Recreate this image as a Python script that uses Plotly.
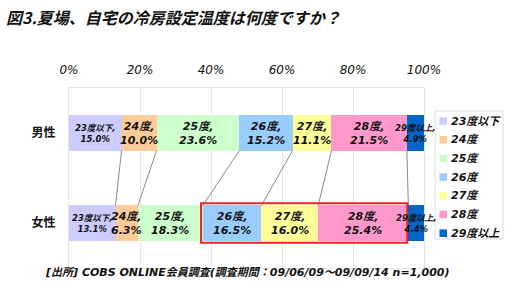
import plotly.graph_objects as go

categories = ["男性", "女性"]
series_names = ["23度以下", "24度", "25度", "26度", "27度", "28度", "29度以上"]
male = [15.0, 10.0, 23.6, 15.2, 11.1, 21.5, 4.9]
female = [13.1, 6.3, 18.3, 16.5, 16.0, 25.4, 4.4]
colors = ["#ccccff", "#ffcc99", "#ccffcc", "#99ccff", "#ffff99", "#ff99cc", "#0066cc"]
tick_vals = [0, 20, 40, 60, 80, 100]
tick_text = ["0%", "20%", "40%", "60%", "80%", "100%"]
title_text = "図3.夏場、自宅の冷房設定温度は何度ですか？"
source_text = "[出所] COBS ONLINE会員調査(調査期間：09/06/09～09/09/14 n=1,000)"
highlight = (3, 5)  # 女性の 26度〜28度 を赤枠で強調

W, H = 505, 295
L, R, T, B = 69, 81, 88, 27
pw, ph = W - L - R, H - T - B
FONT = "DejaVu Sans, Noto Sans CJK JP, sans-serif"
JFONT = "Noto Sans CJK JP, DejaVu Sans, sans-serif"


def px(x):
    return (x - L) / pw


def py(y):
    return (H - B - y) / ph


BAR_W = 0.39

fig = go.Figure()
for i, name in enumerate(series_names):
    fig.add_trace(go.Bar(
        orientation="h", y=categories, x=[male[i], female[i]], name=name,
        marker=dict(color=colors[i], line=dict(width=0)), showlegend=False,
        hoverinfo="skip",
    ))


def cum_norm(vals):
    tot = sum(vals)
    out, c = [0.0], 0.0
    for v in vals:
        c += v
        out.append(c * 100.0 / tot)
    return out


cm = cum_norm(male)
cf = cum_norm(female)

shapes = []
annotations = []
# series lines
for k in range(1, len(series_names)):
    shapes.append(dict(type="line", xref="x", yref="y", x0=cm[k], y0=BAR_W / 2,
                       x1=cf[k], y1=1 - BAR_W / 2, line=dict(color="#8a8a8a", width=1)))

# bar labels
for row, (vals, cum) in enumerate([(male, cm), (female, cf)]):
    for i, name in enumerate(series_names):
        small = i in (0, len(series_names) - 1)
        annotations.append(dict(
            x=(cum[i] + cum[i + 1]) / 2, y=row, xref="x", yref="y",
            text=f"{name},<br>{vals[i]:.1f}%", showarrow=False,
            font=dict(family=FONT, size=8.5 if small else 11, color="#111111",
                      style="italic", weight="bold"),
            align="center"))

# highlight box
shapes.append(dict(type="rect", xref="x", yref="y", x0=cf[highlight[0]] - 0.5,
                   x1=cf[highlight[1] + 1] - 0.3, y0=1 - BAR_W / 2 - 0.025,
                   y1=1 + BAR_W / 2 + 0.025, line=dict(color="#ee2222", width=2)))

# legend (manual)
shapes.append(dict(type="rect", xref="paper", yref="paper", x0=px(435), x1=px(503),
                   y0=py(239), y1=py(111), line=dict(color="#dddddd", width=1),
                   fillcolor="white", layer="above"))
for i, name in enumerate(series_names):
    yc = 121 + i * 18.7
    shapes.append(dict(type="rect", xref="paper", yref="paper", x0=px(439.5), x1=px(447),
                       y0=py(yc + 3.8), y1=py(yc - 3.8), line=dict(width=0),
                       fillcolor=colors[i], layer="above"))
    annotations.append(dict(x=px(449.5), y=py(yc), xref="paper", yref="paper",
                            xanchor="left", yanchor="middle", text=name, showarrow=False,
                            font=dict(family=FONT, size=11, color="#111111",
                                      style="italic", weight="bold")))

# title and source
annotations.append(dict(x=px(4), y=py(17), xref="paper", yref="paper", xanchor="left",
                        yanchor="middle", text=title_text, showarrow=False,
                        font=dict(family=JFONT, size=16, color="#111111",
                                  style="italic", weight="bold")))
annotations.append(dict(x=px(43), y=py(272), xref="paper", yref="paper", xanchor="left",
                        yanchor="middle", text=source_text, showarrow=False,
                        font=dict(family=FONT, size=11, color="#111111",
                                  style="italic", weight="bold")))

fig.update_layout(
    width=W, height=H, margin=dict(l=L, r=R, t=T, b=B, autoexpand=False),
    paper_bgcolor="white", plot_bgcolor="white",
    barmode="stack", barnorm="percent", bargap=1 - BAR_W,
    shapes=shapes, annotations=annotations, showlegend=False,
    xaxis=dict(range=[0, 100], side="top", tickvals=tick_vals, ticktext=tick_text,
               showgrid=True, gridcolor="#e6e6e6", gridwidth=1, zeroline=False,
               showline=True, linecolor="#e6e6e6", mirror=True, ticks="",
               ticklabelstandoff=8, fixedrange=True,
               tickfont=dict(family=FONT, size=12, color="#111111", style="italic")),
    yaxis=dict(categoryorder="array", categoryarray=categories, autorange="reversed",
               showgrid=False, zeroline=False, showline=True, linecolor="#e6e6e6",
               mirror=True, ticks="", ticklabelstandoff=10, fixedrange=True,
               tickfont=dict(family=JFONT, size=12, color="#111111", weight="bold")),
)

fig.write_html("out.html")
